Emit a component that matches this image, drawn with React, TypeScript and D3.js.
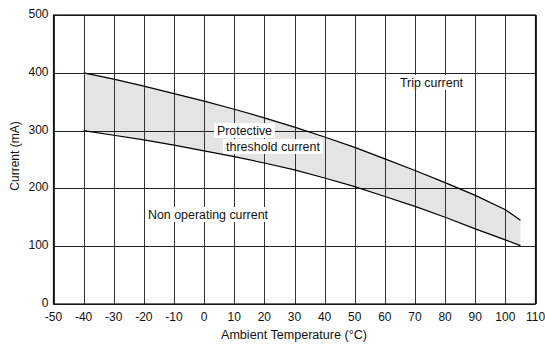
import React from "react";
import * as d3 from "d3";

const temps = [-40, -30, -20, -10, 0, 10, 20, 30, 40, 50, 60, 70, 80, 90, 100, 105];
const tripCurrent = [400, 389, 377, 364, 351, 337, 322, 306, 289, 271, 251, 231, 210, 188, 163, 145];
const nonOperating = [300, 292, 284, 275, 265, 255, 244, 232, 218, 203, 186, 169, 150, 130, 111, 101];
const xTicks = d3.range(-50, 111, 10);
const yTicks = [0, 100, 200, 300, 400, 500];

const W = 545, H = 345;
const M = { left: 53.5, right: 535.5, top: 15, bottom: 304 };
const font = "'Liberation Sans', Arial, sans-serif";

export default function App() {
  const x = d3.scaleLinear().domain([-50, 110]).range([M.left, M.right]);
  const y = d3.scaleLinear().domain([0, 500]).range([M.bottom, M.top]);
  const data = temps.map((t, i) => ({ t, hi: tripCurrent[i], lo: nonOperating[i] }));
  const area = d3.area<any>().x(d => x(d.t)).y0(d => y(d.lo)).y1(d => y(d.hi));
  const lineHi = d3.line<any>().x(d => x(d.t)).y(d => y(d.hi));
  const lineLo = d3.line<any>().x(d => x(d.t)).y(d => y(d.lo));

  const labels = [
    { text: "Trip current", x: 400, y: 87, w: 63 },
    { text: "Protective", x: 217, y: 135, w: 55 },
    { text: "threshold current", x: 226, y: 151, w: 94 },
    { text: "Non operating current", x: 148, y: 219, w: 120 },
  ];

  return (
    <svg width={W} height={H} style={{ position: "absolute", left: 0, top: 0, background: "#fff" }}>
      <rect x={0} y={0} width={W} height={H} fill="#fff" />
      <path d={area(data) || ""} fill="#e4e4e4" />
      {xTicks.map(t => (
        <line key={"vx" + t} x1={Math.round(x(t)) + 0.5} x2={Math.round(x(t)) + 0.5} y1={M.top} y2={M.bottom} stroke="#333" strokeWidth={1} />
      ))}
      {yTicks.map(v => (
        <line key={"hy" + v} x1={M.left} x2={M.right} y1={Math.round(y(v)) + 0.5} y2={Math.round(y(v)) + 0.5} stroke="#222" strokeWidth={1} />
      ))}
      <rect x={M.left} y={M.top} width={M.right - M.left} height={M.bottom - M.top} fill="none" stroke="#111" strokeWidth={1.2} />
      <path d={lineHi(data) || ""} fill="none" stroke="#000" strokeWidth={1.2} />
      <path d={lineLo(data) || ""} fill="none" stroke="#000" strokeWidth={1.2} />
      {labels.map(l => (
        <g key={l.text}>
          <rect x={l.x - 3} y={l.y - 12} width={l.w + 6} height={15} fill="#fff" />
          <text x={l.x} y={l.y} fontFamily={font} fontSize={12} fill="#111" textLength={l.w} lengthAdjust="spacingAndGlyphs">{l.text}</text>
        </g>
      ))}
      {yTicks.map(v => (
        <text key={"yl" + v} x={48.5} y={y(v) + 3} textAnchor="end" fontFamily={font} fontSize={12} fill="#111">{v}</text>
      ))}
      {xTicks.map(t => (
        <text key={"xl" + t} x={x(t)} y={321} textAnchor="middle" fontFamily={font} fontSize={12} fill="#111">{t}</text>
      ))}
      <text x={294} y={339} textAnchor="middle" fontFamily={font} fontSize={12} fill="#111" textLength={146} lengthAdjust="spacingAndGlyphs">Ambient Temperature (°C)</text>
      <text transform="translate(19,156) rotate(-90)" textAnchor="middle" fontFamily={font} fontSize={12} fill="#111">Current (mA)</text>
    </svg>
  );
}
